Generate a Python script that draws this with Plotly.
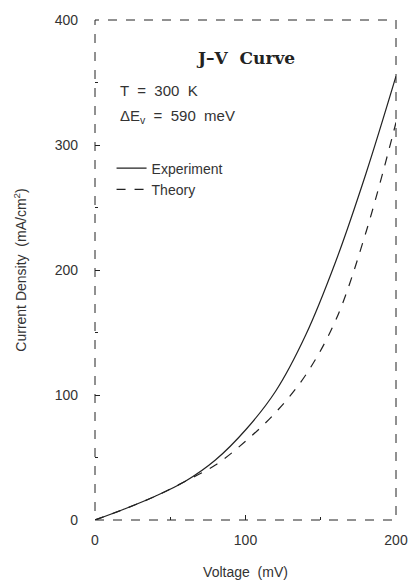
import plotly.graph_objects as go

voltage = [0, 20, 40, 60, 80, 100, 120, 140, 160, 180, 200]
experiment = [0, 9, 19, 31, 48, 72, 103, 148, 207, 277, 355]
theory = [0, 9, 19, 31, 44, 63, 86, 116, 160, 230, 318]

x_ticks = [0, 100, 200]
y_ticks = [0, 100, 200, 300, 400]

font = "Liberation Sans"
ink = "#222"
txt = "#333"

fig = go.Figure()
fig.add_trace(go.Scatter(x=voltage, y=experiment, mode="lines", name="Experiment",
                         line=dict(color=ink, width=1.2, shape="spline")))
fig.add_trace(go.Scatter(x=voltage, y=theory, mode="lines", name="Theory",
                         line=dict(color=ink, width=1.2, dash="dash", shape="spline")))

axis_common = dict(showgrid=False, zeroline=False, showline=False, mirror=True,
                   ticks="inside", ticklen=5, tickcolor=ink, tickwidth=1,
                   automargin=False,
                   tickfont=dict(family=font, size=14, color=txt))

fig.update_layout(
    width=411, height=585,
    margin=dict(l=95, r=15, t=20, b=65),
    paper_bgcolor="white", plot_bgcolor="white",
    showlegend=True,
    legend=dict(x=0.055, y=0.735, xanchor="left", yanchor="top",
                bgcolor="rgba(0,0,0,0)", font=dict(family=font, size=14, color=txt),
                tracegroupgap=2),
    xaxis=dict(range=[0, 200], tickvals=x_ticks, ticklabelstandoff=10,
               title=dict(text="Voltage  (mV)", font=dict(family=font, size=14, color=txt), standoff=20),
               minor=dict(ticks="inside", ticklen=3, dtick=50, tickcolor=ink),
               **axis_common),
    yaxis=dict(range=[0, 400], tickvals=y_ticks, ticklabelstandoff=16,
               title=dict(text="Current Density  (mA/cm<sup>2</sup>)", font=dict(family=font, size=14, color=txt), standoff=24),
               minor=dict(ticks="inside", ticklen=3, dtick=50, tickcolor=ink),
               **axis_common),
)

fig.add_shape(type="rect", xref="paper", yref="paper", x0=0, y0=0, x1=1, y1=1,
              line=dict(color=ink, width=1, dash="dash"))

fig.add_annotation(xref="paper", yref="paper", x=0.5, y=0.924, xanchor="center", yanchor="middle",
                   text="<b>J–V  Curve</b>",
                   showarrow=False, font=dict(family="DejaVu Serif", size=17, color=ink))
fig.add_annotation(xref="paper", yref="paper", x=0.075, y=0.86, xanchor="left", yanchor="middle",
                   text="T  =  300  K", showarrow=False,
                   font=dict(family=font, size=15, color=txt))
fig.add_annotation(xref="paper", yref="paper", x=0.075, y=0.806, xanchor="left", yanchor="middle",
                   text="ΔE<sub>v</sub>  =  590  meV", showarrow=False,
                   font=dict(family=font, size=15, color=txt))

# remove the page's default 8px body margin so the figure fills the window exactly
fig.write_html("out.html", config={"displayModeBar": False},
               post_script="document.body.style.margin='0';document.body.style.overflow='hidden';")
